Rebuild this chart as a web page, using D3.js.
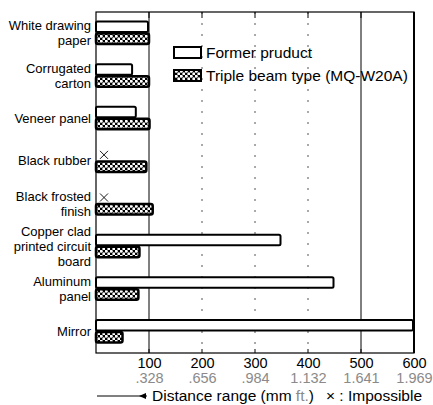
<!DOCTYPE html>
<html><head><meta charset="utf-8">
<script src="https://cdn.jsdelivr.net/npm/d3@7/dist/d3.min.js"></script>
<style>body{margin:0;background:#fff;overflow:hidden}svg{display:block}text{font-family:"Liberation Sans",Arial,sans-serif}</style>
</head><body>
<svg id="c" width="433" height="405"></svg>
<script>
const categories = ["White drawing paper","Corrugated carton","Veneer panel","Black rubber","Black frosted finish","Copper clad printed circuit board","Aluminum panel","Mirror"];
const labelLines = [["White drawing","paper"],["Corrugated","carton"],["Veneer panel"],["Black rubber"],["Black frosted","finish"],["Copper clad","printed circuit","board"],["Aluminum","panel"],["Mirror"]];
const series = ["Former pruduct","Triple beam type (MQ-W20A)"];
const formerValues = [100, 70, 77, null, null, 350, 450, 600];   // null = impossible
const tripleValues = [100, 100, 101, 95, 107, 82, 80, 50];
const tickValues = [100,200,300,400,500,600];
const tickFeet = [".328",".656",".984","1.132","1.641","1.969"];

const svg = d3.select("#c");
const x = d3.scaleLinear().domain([0,600]).range([96,414]);
const y = d3.scaleBand().domain(categories).range([12,353]);
const sub = d3.scaleBand().domain(series).range([9,33]);

const defs = svg.append("defs");
const pat = defs.append("pattern").attr("id","chk").attr("patternUnits","userSpaceOnUse")
  .attr("width",5).attr("height",5);
pat.append("rect").attr("width",5).attr("height",5).attr("fill","#000");
pat.append("circle").attr("cx",1.25).attr("cy",1.25).attr("r",1.5).attr("fill","#fff");
pat.append("circle").attr("cx",3.75).attr("cy",3.75).attr("r",1.5).attr("fill","#fff");
defs.append("clipPath").attr("id","plotclip").append("rect")
  .attr("x",x(0)-2).attr("y",10).attr("width",x(600)-x(0)+3).attr("height",345);

// gridlines
const grid = svg.append("g");
tickValues.slice(0,5).forEach(v=>{
  const solid = (v===100||v===500);
  grid.append("line").attr("x1",x(v)).attr("x2",x(v)).attr("y1",12).attr("y2",353)
    .attr("stroke",solid?"#000":"#555").attr("stroke-width",1)
    .attr("stroke-dasharray",solid?null:"2,9");
});
tickValues.forEach(v=>{
  svg.append("line").attr("x1",x(v)).attr("x2",x(v)).attr("y1",12).attr("y2",18).attr("stroke","#000");
  svg.append("line").attr("x1",x(v)).attr("x2",x(v)).attr("y1",349).attr("y2",353).attr("stroke","#000");
});

// bars
const bars = svg.append("g").attr("clip-path","url(#plotclip)");
categories.forEach((c,i)=>{
  const f = formerValues[i];
  const yf = y(c)+sub(series[0]);
  if (f!==null){
    bars.append("rect").attr("x",x(0)).attr("y",yf+0.5).attr("width",x(f)-x(0)-1).attr("height",sub.bandwidth()-1.5)
      .attr("fill","#fff").attr("stroke","#000").attr("stroke-width",2).attr("rx",1.5);
  } else {
    const cx = x(0)+8, cy = yf+sub.bandwidth()/2;
    bars.append("path").attr("d",`M${cx-4},${cy-4}L${cx+4},${cy+4}M${cx+4},${cy-4}L${cx-4},${cy+4}`)
      .attr("stroke","#000").attr("stroke-width",0.9);
  }
  const t = tripleValues[i];
  const yt = y(c)+sub(series[1]);
  bars.append("rect").attr("x",x(0)).attr("y",yt+0.5).attr("width",x(t)-x(0)).attr("height",sub.bandwidth()-1.5)
    .attr("fill","url(#chk)").attr("stroke","#000").attr("stroke-width",2.5).attr("rx",2);
});

// frame
svg.append("rect").attr("x",96).attr("y",12).attr("width",318).attr("height",341)
  .attr("fill","none").attr("stroke","#000").attr("stroke-width",1.2);
svg.append("line").attr("x1",414).attr("x2",414).attr("y1",12).attr("y2",353).attr("stroke","#000").attr("stroke-width",2);

// category labels
categories.forEach((c,i)=>{
  const lines = labelLines[i];
  const mid = y(c)+21;
  const lh = 15;
  lines.forEach((ln,j)=>{
    svg.append("text").attr("x",91).attr("y",mid+(j-(lines.length-1)/2)*lh+4.6)
      .attr("text-anchor","end").attr("font-size",13).attr("fill","#000").text(ln);
  });
});

// x axis labels
const ax = svg.append("g").attr("transform","translate(0,353)")
  .call(d3.axisBottom(x).tickValues(tickValues).tickSize(0).tickFormat(d=>d));
ax.select(".domain").remove();
ax.selectAll("text").attr("font-size",14.5).attr("fill","#000").attr("dy",null).attr("y",15)
  .attr("font-family","Liberation Sans, Arial, sans-serif");
ax.selectAll(".tick").append("text").attr("y",29.5).attr("text-anchor","middle")
  .attr("font-size",14.5).attr("fill","#8a8a8a").attr("font-family","Liberation Sans, Arial, sans-serif")
  .text((d,i)=>tickFeet[i]);

// legend
const lg = svg.append("g");
lg.append("rect").attr("x",174).attr("y",47).attr("width",27).attr("height",11)
  .attr("fill","#fff").attr("stroke","#000").attr("stroke-width",2);
lg.append("text").attr("x",206).attr("y",58).attr("font-size",15.5).text(series[0]);
lg.append("rect").attr("x",174).attr("y",70).attr("width",27).attr("height",11)
  .attr("fill","url(#chk)").attr("stroke","#000").attr("stroke-width",2);
lg.append("text").attr("x",206).attr("y",81).attr("font-size",15.5).text(series[1]);

// bottom note
svg.append("line").attr("x1",97).attr("x2",147).attr("y1",396).attr("y2",396).attr("stroke","#000").attr("stroke-width",1);
svg.append("path").attr("d","M139,396L146,393L146,399Z").attr("fill","#000");
const note = svg.append("text").attr("x",152).attr("y",401).attr("font-size",15.5).attr("fill","#000");
note.append("tspan").text("Distance range (mm ");
note.append("tspan").attr("fill","#8a8a8a").text("ft.");
note.append("tspan").text(")\u2002 \u00d7 : Impossible");
</script>
</body></html>
